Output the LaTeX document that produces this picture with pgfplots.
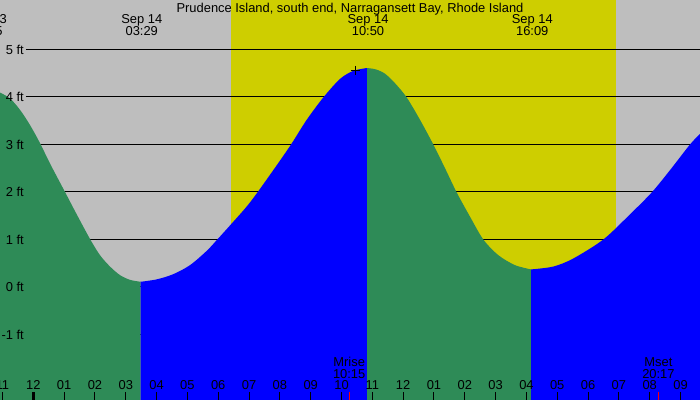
\documentclass[border=0pt]{standalone}
\usepackage{pgfplots}
\pgfplotsset{compat=1.18}
\usepackage{fontspec}
\setmainfont{Liberation Sans}
\definecolor{bggray}{RGB}{190,190,190}
\definecolor{dayyellow}{RGB}{206,206,0}
\definecolor{tidegreen}{RGB}{46,139,87}
\definecolor{tideblue}{RGB}{0,0,255}
\newcommand\cf{\fontsize{12.9bp}{15bp}\selectfont}
\begin{document}
\begin{tikzpicture}
\begin{axis}[
  name=ax, at={(0,0)}, anchor=south west,
  width=700bp, height=400bp, scale only axis,
  xmin=-1.0804, xmax=21.632,
  ymin=-2.379, ymax=6.042,
  axis background/.style={fill=bggray},
  axis line style={draw=none},
  axis on top,
  ytick=\empty,
  xtick={-1,0,...,21},
  xticklabels={11,12,01,02,03,04,05,06,07,08,09,10,11,12,01,02,03,04,05,06,07,08,09},
  xtick pos=bottom,
  tick align=inside,
  major tick length=8bp,
  minor tick num=0,
  tick style={black, line width=1bp},
  xticklabel style={anchor=base, yshift=10bp, inner sep=0pt, font=\cf},
]
% daylight
\addplot[fill=dayyellow, draw=none] coordinates {(6.415,-3) (6.415,7) (18.907,7) (18.907,-3)} -- cycle;
% level lines
\addplot[black, line width=1bp] coordinates {(-0.237,5) (21.7,5)};
\addplot[black, line width=1bp] coordinates {(-0.237,4) (21.7,4)};
\addplot[black, line width=1bp] coordinates {(-0.237,3) (21.7,3)};
\addplot[black, line width=1bp] coordinates {(-0.237,2) (21.7,2)};
\addplot[black, line width=1bp] coordinates {(-0.237,1) (21.7,1)};
\addplot[black, line width=1bp] coordinates {(-0.237,0) (21.7,0)};
\addplot[black, line width=1bp] coordinates {(-0.237,-1) (21.7,-1)};
% falling 1
\addplot[fill=tidegreen, draw=none, smooth] coordinates {
(-1.100,4.10) (-0.756,3.97) (-0.432,3.73) (-0.107,3.41) (0.217,3.03) (0.542,2.60)
(1.029,2.00) (1.408,1.53) (1.849,1.00) (2.164,0.67) (2.489,0.43) (2.813,0.25)
(3.138,0.15) (3.483,0.11)} -- (axis cs:3.483,-2.4) -- (axis cs:-1.100,-2.4) -- cycle;
% rising 2
\addplot[fill=tideblue, draw=none, smooth] coordinates {
(3.483,0.11) (4.003,0.16) (4.543,0.27) (5.085,0.46) (5.626,0.76) (5.970,1.00)
(6.415,1.32) (7.031,1.78) (7.787,2.46) (8.362,3.00) (8.871,3.52)
(9.410,3.99) (9.951,4.38) (10.383,4.55) (10.833,4.61)} -- (axis cs:10.833,-2.4) -- (axis cs:3.483,-2.4) -- cycle;
% falling 3
\addplot[fill=tidegreen, draw=none, smooth] coordinates {
(10.833,4.61) (11.120,4.58) (11.412,4.49) (11.736,4.29) (12.116,3.99) (12.547,3.52)
(12.979,3.00) (13.359,2.50) (13.738,1.99) (14.170,1.48) (14.601,1.00) (15.088,0.67)
(15.630,0.46) (16.150,0.37)} -- (axis cs:16.150,-2.4) -- (axis cs:10.833,-2.4) -- cycle;
% rising 4
\addplot[fill=tideblue, draw=none, smooth] coordinates {
(16.150,0.37) (16.872,0.43) (17.521,0.60) (18.495,1.00) (19.361,1.53)
(20.065,1.99) (20.659,2.46) (21.308,3.00) (21.700,3.27)} -- (axis cs:21.700,-2.4) -- (axis cs:16.150,-2.4) -- cycle;
% moon transit mark
\addplot[only marks, mark=+, mark size=4.5bp, black, line width=1bp] coordinates {(10.448,4.56)};
% midnight tick, moonrise / moonset ticks
\addplot[black, line width=3bp] coordinates {(0,-2.379) (0,-2.211)};
\addplot[red, line width=1bp] coordinates {(10.25,-2.379) (10.25,-2.211)};
\addplot[red, line width=1bp] coordinates {(20.283,-2.379) (20.283,-2.211)};
% level labels
\foreach \v/\t in {5/5 ft,4/4 ft,3/3 ft,2/2 ft,1/1 ft,0/0 ft,-1/-1 ft}{
  \edef\tmp{\noexpand\node[anchor=east, inner sep=0pt, font=\noexpand\cf] at (axis cs:-0.302,\v) {\t};}\tmp
}
% title
\node[anchor=base, inner sep=0pt, font=\cf] at (axis cs:10.276,5.789) {Prudence Island, south end, Narragansett Bay, Rhode Island};
% tide times
\node[anchor=base, inner sep=0pt, font=\cf] at (axis cs:-1.525,5.537) {Sep 13};
\node[anchor=base, inner sep=0pt, font=\cf] at (axis cs:-1.525,5.284) {22:25};
\node[anchor=base, inner sep=0pt, font=\cf] at (axis cs:3.520,5.537) {Sep 14};
\node[anchor=base, inner sep=0pt, font=\cf] at (axis cs:3.520,5.284) {03:29};
\node[anchor=base, inner sep=0pt, font=\cf] at (axis cs:10.860,5.537) {Sep 14};
\node[anchor=base, inner sep=0pt, font=\cf] at (axis cs:10.860,5.284) {10:50};
\node[anchor=base, inner sep=0pt, font=\cf] at (axis cs:16.190,5.537) {Sep 14};
\node[anchor=base, inner sep=0pt, font=\cf] at (axis cs:16.190,5.284) {16:09};
% moon labels
\node[anchor=base, inner sep=0pt, font=\cf] at (axis cs:10.25,-1.678) {Mrise};
\node[anchor=base, inner sep=0pt, font=\cf] at (axis cs:10.25,-1.924) {10:15};
\node[anchor=base, inner sep=0pt, font=\cf] at (axis cs:20.283,-1.678) {Mset};
\node[anchor=base, inner sep=0pt, font=\cf] at (axis cs:20.283,-1.924) {20:17};
\end{axis}
\pgfresetboundingbox
\path (ax.south west) rectangle (ax.north east);
\end{tikzpicture}
\end{document}
